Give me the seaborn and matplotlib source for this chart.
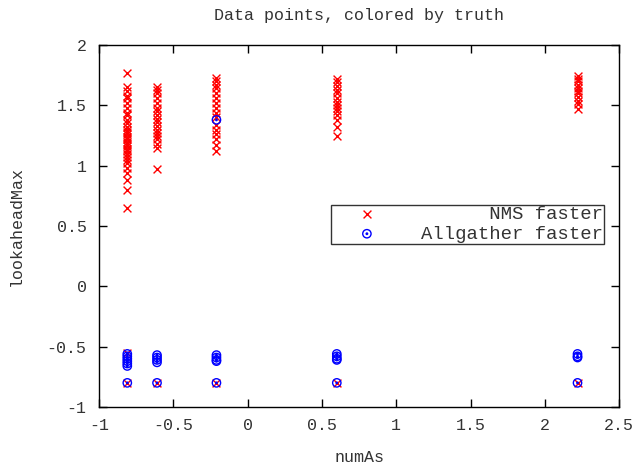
import numpy as np
import pandas as pd
import matplotlib
matplotlib.use('Agg')
import matplotlib.pyplot as plt
from matplotlib.path import Path
import seaborn as sns

# x positions of the five columns (numAs)
num_as = [-0.81, -0.61, -0.21, 0.60, 2.22]

# lookaheadMax values where NMS was faster, one list per column
nms_y = [
    [0.65, 0.80, 0.88, 0.94, 0.98, 1.02, 1.05, 1.07, 1.10, 1.12, 1.14, 1.16, 1.18,
     1.20, 1.22, 1.24, 1.26, 1.28, 1.30, 1.32, 1.35, 1.38, 1.42, 1.44, 1.48, 1.52,
     1.56, 1.58, 1.62, 1.65, 1.77, -0.55, -0.80],
    [0.97, 1.15, 1.18, 1.22, 1.25, 1.27, 1.30, 1.33, 1.36, 1.39, 1.42, 1.45, 1.48,
     1.52, 1.56, 1.60, 1.63, 1.65, -0.80],
    [1.12, 1.17, 1.22, 1.26, 1.30, 1.34, 1.40, 1.44, 1.48, 1.52, 1.56, 1.60, 1.64,
     1.67, 1.70, 1.73, -0.80],
    [1.25, 1.32, 1.38, 1.42, 1.45, 1.48, 1.50, 1.53, 1.56, 1.60, 1.63, 1.66, 1.69,
     1.72, -0.80],
    [1.47, 1.51, 1.54, 1.57, 1.60, 1.62, 1.64, 1.67, 1.70, 1.72, 1.74, -0.80],
]

# lookaheadMax values where Allgather was faster
allgather_y = [
    [-0.56, -0.58, -0.60, -0.62, -0.64, -0.66, -0.80],
    [-0.57, -0.59, -0.61, -0.63, -0.80],
    [-0.57, -0.59, -0.61, -0.62, -0.80, 1.38],
    [-0.56, -0.58, -0.60, -0.61, -0.80],
    [-0.56, -0.58, -0.59, -0.80],
]

labels = ['NMS faster', 'Allgather faster']

rows = []
for x, ys in zip(num_as, nms_y):
    rows += [(x, y, labels[0]) for y in ys]
for x, ys in zip(num_as, allgather_y):
    rows += [(x, y, labels[1]) for y in ys]
df = pd.DataFrame(rows, columns=['numAs', 'lookaheadMax', 'truth'])

sns.set_style('ticks')
plt.rcParams['font.family'] = ['Liberation Mono', 'DejaVu Sans Mono']
plt.rcParams['axes.unicode_minus'] = False

fig = plt.figure(figsize=(6.35, 4.67), dpi=100)
ax = fig.add_axes([0.156, 0.1285, 0.819, 0.775])

# circle with a dot in the middle, like gnuplot's point type
dot_circle = Path.make_compound_path(Path.circle((0, 0), 1.0), Path.circle((0, 0), 0.18))

sns.scatterplot(data=df[df['truth'] == labels[0]], x='numAs', y='lookaheadMax',
                marker='x', color='#ff0000', s=32, linewidth=1.0, ax=ax,
                label='      ' + labels[0])
sns.scatterplot(data=df[df['truth'] == labels[1]], x='numAs', y='lookaheadMax',
                marker=dot_circle, facecolor='none', edgecolor='#0000ff', s=36,
                linewidth=1.0, ax=ax, label=labels[1])

ax.set_xlim(-1, 2.5)
ax.set_ylim(-1, 2)
ax.set_xticks(np.arange(-1, 2.51, 0.5))
ax.set_yticks(np.arange(-1, 2.01, 0.5))
ax.xaxis.set_major_formatter(matplotlib.ticker.FormatStrFormatter('%g'))
ax.yaxis.set_major_formatter(matplotlib.ticker.FormatStrFormatter('%g'))
ax.tick_params(direction='in', length=6, width=1, top=True, right=True,
               labelsize=12, labelcolor='#333333', color='black')
ax.tick_params(axis='y', pad=9)
ax.tick_params(axis='x', pad=8)
for sp in ax.spines.values():
    sp.set_visible(True)
    sp.set_color('black')
    sp.set_linewidth(1)

ax.set_title('Data points, colored by truth', fontsize=12, color='#333333', pad=18)
ax.set_xlabel('numAs', fontsize=12, color='#333333', labelpad=12)
ax.set_ylabel('lookaheadMax', fontsize=12, color='#333333', labelpad=16)

leg = ax.legend(loc='upper left', bbox_to_anchor=(0.446, 0.558), fontsize=13.6,
                frameon=True, fancybox=False, borderpad=0.05, labelspacing=0.12,
                handletextpad=1.0, borderaxespad=0, handlelength=3.7,
                markerscale=1.0)
leg.get_frame().set_edgecolor('black')
leg.get_frame().set_linewidth(1)
for t in leg.get_texts():
    t.set_color('#333333')

fig.savefig('out.png', dpi=100)
